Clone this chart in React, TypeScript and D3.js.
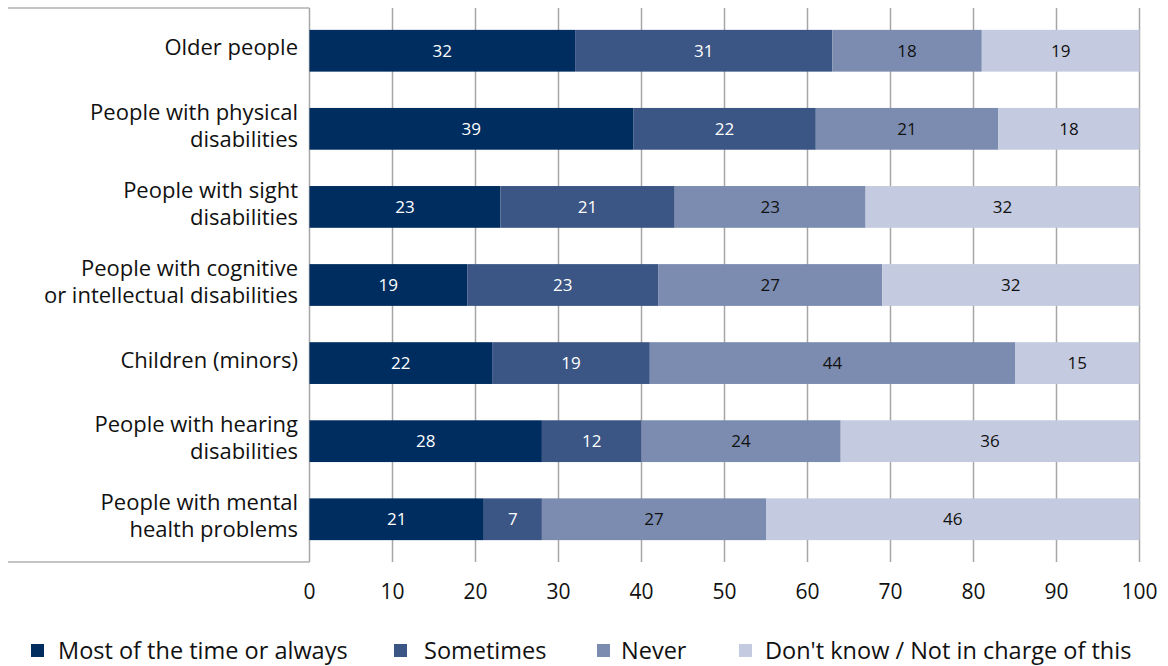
import React from "react";
import * as d3 from "d3";

const categories = [
  ["Older people"],
  ["People with physical", "disabilities"],
  ["People with sight", "disabilities"],
  ["People with cognitive", "or intellectual disabilities"],
  ["Children (minors)"],
  ["People with hearing", "disabilities"],
  ["People with mental", "health problems"],
];
const seriesNames = ["Most of the time or always", "Sometimes", "Never", "Don't know / Not in charge of this"];
// bar lengths as drawn
const mostOfTime = [32, 39, 23, 19, 22, 28, 21];
const sometimes = [31, 22, 21, 23, 19, 12, 7];
const never = [18, 22, 23, 27, 44, 24, 27];
const dontKnow = [19, 17, 33, 31, 15, 36, 45];
// data labels as printed
const mostOfTimeLabels = [32, 39, 23, 19, 22, 28, 21];
const sometimesLabels = [31, 22, 21, 23, 19, 12, 7];
const neverLabels = [18, 21, 23, 27, 44, 24, 27];
const dontKnowLabels = [19, 18, 32, 32, 15, 36, 46];
const xTicks = [0, 10, 20, 30, 40, 50, 60, 70, 80, 90, 100];

const colors = ["#002d5f", "#3b5584", "#7b8cb0", "#c4cadf"];
const labelColors = ["#ffffff", "#ffffff", "#111111", "#111111"];
const FONT = "'Open Sans', sans-serif";

export default function App() {
  const W = 1168, H = 666;
  const left = 309.5, right = 1139.5, top = 8, bottom = 562;
  const x = d3.scaleLinear().domain([0, 100]).range([left, right]);
  const idx = categories.map((_, i) => i);
  const y = d3.scaleBand<number>().domain(idx).range([top, bottom]).paddingInner(0.465).paddingOuter(0.28);
  const rows = idx.map((i) => ({ i, s0: mostOfTime[i], s1: sometimes[i], s2: never[i], s3: dontKnow[i] }));
  const stack = d3.stack<any>().keys(["s0", "s1", "s2", "s3"])(rows);
  const labels = [mostOfTimeLabels, sometimesLabels, neverLabels, dontKnowLabels];
  const legendSq = [31, 394, 597, 739];
  const legendTx = [58, 424, 621, 765];

  return (
    <svg width={W} height={H} style={{ position: "absolute", left: 0, top: 0 }}>
      <rect width={W} height={H} fill="#fff" />
      {xTicks.map((t) => (
        <line key={t} x1={x(t)} x2={x(t)} y1={top} y2={bottom} stroke="#a6a6a6" strokeWidth={1.5} />
      ))}
      <line x1={8} x2={left} y1={top} y2={top} stroke="#b0b0b0" strokeWidth={1.5} />
      <line x1={8} x2={left} y1={bottom} y2={bottom} stroke="#b0b0b0" strokeWidth={1.5} />
      {stack.map((layer, si) => (
        <g key={si}>
          {layer.map((d, i) => (
            <g key={i}>
              <rect x={x(d[0])} y={y(i)} width={x(d[1]) - x(d[0])} height={y.bandwidth()} fill={colors[si]} />
              <text
                x={(x(d[0]) + x(d[1])) / 2}
                y={(y(i) as number) + y.bandwidth() / 2}
                dy="0.35em"
                textAnchor="middle"
                fill={labelColors[si]}
                fontFamily={FONT}
                fontSize={17}
              >
                {labels[si][i]}
              </text>
            </g>
          ))}
        </g>
      ))}
      {categories.map((lines, i) => {
        const cy = (y(i) as number) + y.bandwidth() / 2 - 3;
        const lh = 27;
        const start = cy - ((lines.length - 1) * lh) / 2;
        return (
          <text key={i} textAnchor="end" fontFamily={FONT} fontSize={22} fill="#111">
            {lines.map((l, k) => (
              <tspan key={k} x={298} y={start + k * lh} dy="0.35em">
                {l}
              </tspan>
            ))}
          </text>
        );
      })}
      {xTicks.map((t) => (
        <text key={t} x={x(t)} y={592} dy="0.35em" textAnchor="middle" fontFamily={FONT} fontSize={21} fill="#111">
          {t}
        </text>
      ))}
      {seriesNames.map((n, i) => (
        <g key={i}>
          <rect x={legendSq[i]} y={644} width={13} height={13} fill={colors[i]} />
          <text x={legendTx[i]} y={651} dy="0.35em" fontFamily={FONT} fontSize={23.5} fill="#111">
            {n}
          </text>
        </g>
      ))}
    </svg>
  );
}
